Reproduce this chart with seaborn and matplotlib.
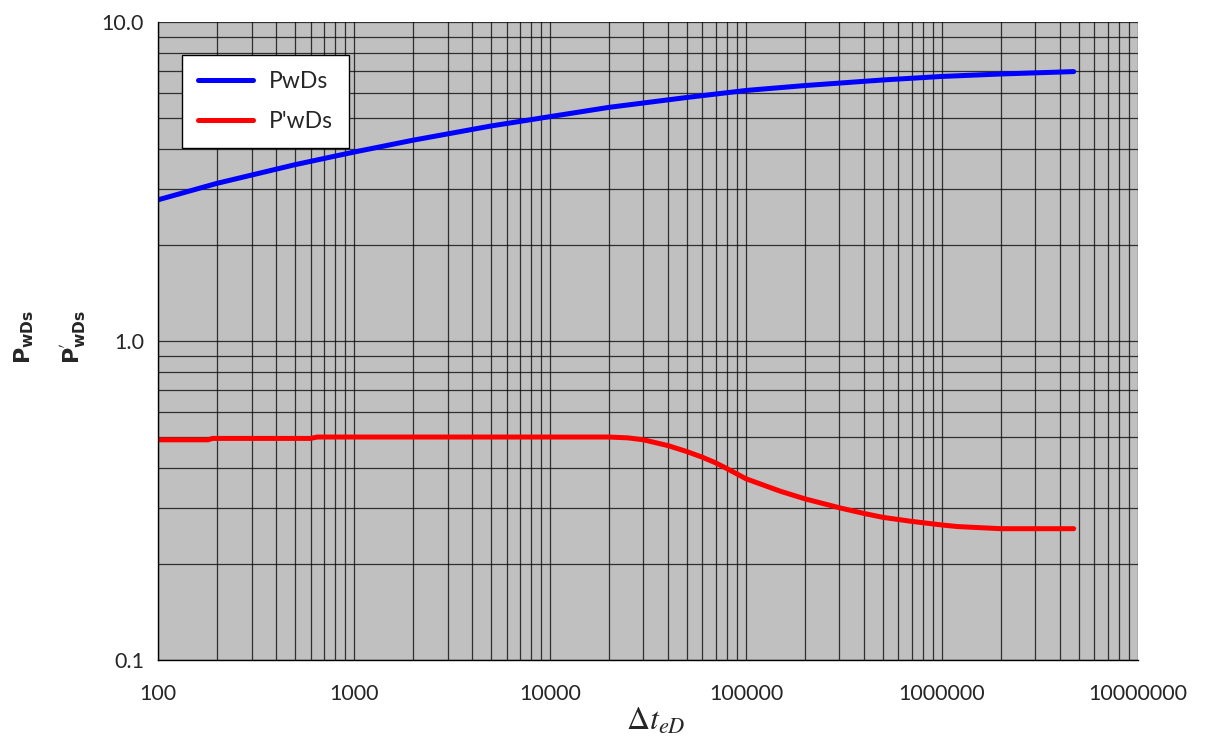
import numpy as np
import pandas as pd
import matplotlib
matplotlib.use("Agg")
import matplotlib.pyplot as plt
import matplotlib.ticker as mticker
import seaborn as sns

# values
dt_pwd = [100, 200, 500, 1000, 2000, 5000, 10000, 20000, 50000, 100000,
          200000, 500000, 1000000, 2000000, 4700000]
pwds = [2.77, 3.12, 3.57, 3.91, 4.26, 4.72, 5.05, 5.40, 5.80, 6.10,
        6.32, 6.58, 6.75, 6.87, 6.99]

dt_der = [100, 180, 190, 600, 650, 20000, 25000, 30000, 40000, 50000, 60000,
          70000, 80000, 100000, 150000, 200000, 300000, 400000, 500000,
          700000, 1000000, 1200000, 2000000, 4700000]
pwds_der = [0.49, 0.49, 0.495, 0.495, 0.50, 0.50, 0.497, 0.49, 0.47, 0.45, 0.432,
            0.415, 0.398, 0.37, 0.338, 0.32, 0.30, 0.288, 0.28,
            0.272, 0.265, 0.262, 0.258, 0.258]

df = pd.concat([
    pd.DataFrame({"dt": dt_pwd, "val": pwds, "series": "PwDs"}),
    pd.DataFrame({"dt": dt_der, "val": pwds_der, "series": "P'wDs"}),
])

sns.set_style("white")
plt.rcParams['font.family'] = ['Lato', 'DejaVu Sans']

fig = plt.figure(figsize=(12.07, 7.40), dpi=100)
ax = fig.add_axes([0.1309, 0.1081, 0.8119, 0.8622])
ax.set_facecolor("#C0C0C0")

sns.lineplot(data=df, x="dt", y="val", hue="series", sort=False,
             palette={"PwDs": "#0000FF", "P'wDs": "#FF0000"},
             linewidth=3.6, ax=ax, legend=True)

ax.set_xscale("log")
ax.set_yscale("log")
ax.set_xlim(100, 1e7)
ax.set_ylim(0.1, 10)

ax.xaxis.set_major_locator(mticker.LogLocator(base=10, numticks=10))
ax.xaxis.set_minor_locator(mticker.LogLocator(base=10, subs=np.arange(2, 10), numticks=100))
ax.yaxis.set_major_locator(mticker.FixedLocator([0.1, 1, 10]))
ax.yaxis.set_minor_locator(mticker.LogLocator(base=10, subs=np.arange(2, 10), numticks=100))
ax.xaxis.set_major_formatter(mticker.FuncFormatter(lambda v, p: f"{int(round(v))}"))
ax.yaxis.set_major_formatter(mticker.FixedFormatter(["0.1", "1.0", "10.0"]))
ax.xaxis.set_minor_formatter(mticker.NullFormatter())
ax.yaxis.set_minor_formatter(mticker.NullFormatter())

ax.grid(True, which="both", color="black", linewidth=0.9, alpha=0.75)
ax.tick_params(axis="both", which="major", labelsize=15.5, length=4, color="black", direction="out")
ax.tick_params(axis="both", which="minor", length=0)
ax.tick_params(axis="x", pad=13)
ax.tick_params(axis="y", pad=6)
for s in ax.spines.values():
    s.set_color("black")
    s.set_linewidth(1)
ax.spines["top"].set_visible(False)
ax.spines["right"].set_visible(False)

ax.set_xlabel("")
ax.set_ylabel("")

plt.rcParams['mathtext.fontset'] = 'stix'
fig.text(0.543, 0.006, r"$\Delta t_{eD}$", fontsize=23, ha="center", va="bottom")
plt.rcParams['mathtext.fontset'] = 'dejavusans'
fig.text(0.020, 0.545, r"$\mathbf{P}_{\mathbf{wDs}}$", fontsize=16, rotation=90,
         ha="center", va="center")
fig.text(0.060, 0.545, r"$\mathbf{P}^{\mathbf{'}}_{\mathbf{wDs}}$", fontsize=16, rotation=90,
         ha="center", va="center")

leg = ax.legend(loc="upper left", bbox_to_anchor=(0.0245, 0.948), borderaxespad=0,
                frameon=True, fancybox=False, framealpha=1, edgecolor="black",
                fontsize=16.5, handlelength=2.4, borderpad=0.7, labelspacing=0.8,
                handletextpad=0.7, title=None)
leg.get_frame().set_linewidth(1)
for line in leg.get_lines():
    line.set_linewidth(3.6)

fig.savefig("out.png", dpi=100)
